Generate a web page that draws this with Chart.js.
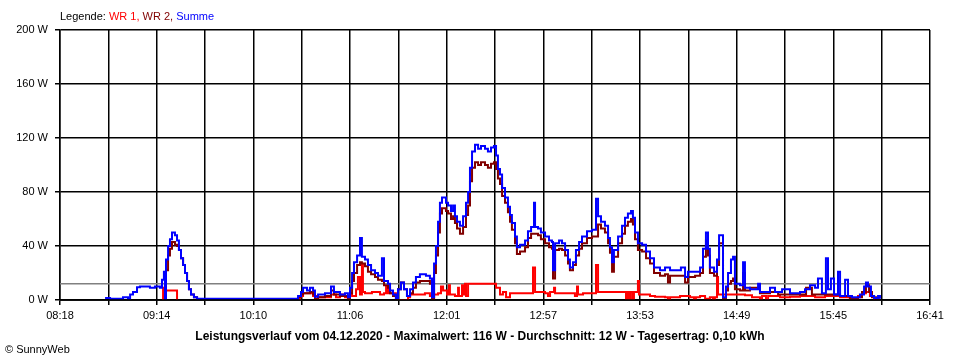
<!DOCTYPE html>
<html><head><meta charset="utf-8">
<script src="https://cdn.jsdelivr.net/npm/chart.js@4.4.1/dist/chart.umd.min.js"></script>
<style>
html,body{margin:0;padding:0;background:#fff;}
#wrap{position:relative;width:960px;height:360px;overflow:hidden;font-family:"Liberation Sans",Arial,sans-serif;color:#000;}
#c{position:absolute;left:0;top:0;}
.txt{position:absolute;white-space:nowrap;line-height:1;}
#legend{left:60px;top:11px;font-size:11px;}
#title{left:0;width:960px;text-align:center;top:330px;font-size:12px;font-weight:bold;}
#copy{left:5px;top:344px;font-size:11px;}
</style></head>
<body><div id="wrap"><canvas id="c" width="960" height="360"></canvas>
<div id="legend" class="txt">Legende: <span style="color:#ff0000">WR 1,</span> <span style="color:#800000">WR 2,</span> <span style="color:#0000ff">Summe</span></div>
<div id="title" class="txt">Leistungsverlauf vom 04.12.2020 - Maximalwert: 116 W - Durchschnitt: 12 W - Tagesertrag: 0,10 kWh</div>
<div id="copy" class="txt">© SunnyWeb</div>
</div>
<script>
// x values: minutes after 08:18
const xTickLabels = ['08:18','09:14','10:10','11:06','12:01','12:57','13:53','14:49','15:45','16:41'];
const gridStepMinutes = 28;
const gridCount = 18;
const yTickLabelsW = [0, 40, 80, 120, 160, 200];
const averageW = 12;

const sumTimes = [26.1,29.0,36.5,39.4,40.6,42.3,44.6,46.3,52.1,55.0,
57.9,59.1,60.2,60.8,61.4,62.6,63.7,64.9,66.6,67.8,
68.9,70.1,71.3,72.4,73.6,74.7,75.9,77.6,79.4,137.9,
139.6,140.8,143.1,144.8,146.6,147.7,149.5,153.5,157.0,158.7,
162.2,165.1,166.8,168.0,169.2,170.3,172.1,173.8,174.9,176.7,
178.4,180.2,182.5,184.2,186.5,187.7,190.0,191.2,192.9,194.6,
195.8,197.5,199.3,201.0,202.8,204.5,206.2,208.5,212.0,214.3,
215.5,216.7,217.8,219.0,220.1,221.3,223.6,224.8,226.5,227.7,
228.8,230.0,231.7,233.5,235.2,236.4,237.5,238.7,240.4,242.2,
243.9,246.2,247.9,249.7,251.4,252.6,253.7,254.9,256.1,257.8,
259.5,260.7,261.8,263.6,264.7,266.5,269.4,271.1,272.9,274.6,
275.2,276.9,278.6,281.0,283.3,285.0,285.6,286.8,289.1,290.8,
292.6,294.3,295.4,297.2,298.9,300.7,302.4,305.3,308.2,310.5,
311.7,313.4,315.7,317.5,318.6,319.8,320.9,323.3,325.6,327.3,
329.0,330.8,331.9,333.1,334.8,337.2,339.5,341.8,344.1,347.6,
350.5,353.4,357.4,359.7,362.1,363.8,367.9,370.8,372.5,374.2,
375.4,376.5,378.9,380.6,381.8,382.9,384.1,385.8,387.0,388.7,
389.9,391.0,393.9,395.7,396.8,399.7,404.4,405.5,411.3,414.2,
418.3,422.9,428.7,431.6,434.5,437.4,439.1,441.4,443.7,444.9,
446.6,448.4,450.7,451.9,454.8,456.5,458.8,463.4,465.8,466.9,
468.1,469.8,471.6,473.9,475.0];
const sumWatts = [1.5,1,2,1,4,6,9.5,10,9,10,
9,15,21,1,30,40,45,50,48,44,
37,31,26,20,14,8,4,2,1,3,
6,9,7,9,7,2.5,4,5,10,6,
4,5,2,9,20,28,33,46,32,30,
26,22,20,18,31,14,12,7,4,1.5,
8,13,8,3,8,13,17,19,18,16,
2,27,40,58,72,76,72,70,66,70,
62,58,55,62,72,80,98,110,115,112,
114,112,110,113,114,107,97,93,83,76,
69,63,57,47,39,41,44,51,54,72,
54,53,50,47,44,43,22,42,44,42,
37,30,24,28,37,43,47,51,52,75,
62,58,55,46,39,28,37,47,55,61,
64,66,61,50,42,41,36,31,24,22,
24,22,22,24,17,21,21,24,38,50,
38,24,21,30,48,48,2,10,20,30,
32,12,11,28,9,8,12,6,9,6,
8,5,6,8,11,9,16,5,31,8,
16,4,21,3,15,3,2,4,10,13,
10,3,1.5,3,1];

const wr2Times = [60.8,61.4,62.6,63.7,64.9,66.6,67.8,68.9,70.1,71.3,
72.4,73.6,74.7,75.9,77.6,79.4,81.1,137.9,139.6,140.8,
144.8,146.6,147.7,149.5,153.5,157.0,158.7,162.2,166.8,168.0,
169.2,170.3,172.1,173.8,174.9,176.7,178.4,180.2,182.5,184.2,
186.5,187.7,190.0,191.2,192.9,194.6,195.8,197.5,199.3,201.0,
202.8,204.5,206.2,208.5,214.3,215.5,216.7,217.8,219.0,220.1,
221.3,223.6,224.8,226.5,227.7,228.8,230.0,231.7,233.5,235.2,
236.4,237.5,238.7,240.4,242.2,243.9,246.2,247.9,249.7,251.4,
252.6,253.7,254.9,256.1,257.8,259.5,260.7,261.8,263.6,264.7,
266.5,269.4,271.1,272.9,276.9,278.6,281.0,283.3,285.0,285.6,
286.8,289.1,290.8,292.6,294.3,295.4,297.2,298.9,300.7,302.4,
305.3,308.2,311.7,313.4,315.7,317.5,318.6,319.8,320.9,323.3,
325.6,327.3,329.0,330.8,331.9,333.1,334.8,337.2,339.5,341.8,
344.1,347.6,350.5,352.2,353.4,362.1,363.8,367.9,370.8,372.5,
374.2,375.4,376.5,378.9,380.6,381.8,382.9,384.1,385.8,387.0,
388.7,389.9,391.0,393.9,395.7,396.8,399.7,405.5,411.3,416.0,
432.2,435.6,446.1,451.9,457.6,462.3,464.6,466.9,468.7,470.4,
472.7,475.0];
const wr2Watts = [2,22,33,38,43,41,40,37,31,26,
20,14,8,4,2,0.5,null,2,4,5,
6,4,1,2,3,7,4,3,1,5,
14,20,26,28,27,25,21,19,17,15,
14,11,9,5,3,1,8,13,8,3,
5,9,13,14,12,1,20,33,50,64,
68,66,64,60,62,57,53,49,54,63,
70,88,98,102,100,102,100,98,101,102,
97,90,86,77,72,65,58,52,42,34,
36,39,46,49,48,45,42,39,38,16,
37,38,37,33,27,22,26,33,38,42,
46,47,56,53,50,42,35,21,32,42,
49,55,58,60,56,45,37,36,31,27,
20,18,19,13,18,13,17,18,20,32,
44,33,20,18,26,42,42,1,7,12,
14,16,8,7,20,7,9,5,6,4,
9,4,4,3,1,2,6,11,6,2,
0.5,0.5];

const wr1Times = [59.1,59.7,60.8,61.4,67.8,68.4,137.9,139.0,140.8,146.6,
149.5,157.0,159.9,162.2,165.1,166.8,168.0,169.2,171.5,172.6,
173.8,174.9,175.5,176.7,180.7,185.4,187.7,188.9,190.0,194.6,
195.8,201.6,202.8,211.4,214.3,215.5,216.7,219.0,220.7,221.9,
224.2,225.3,225.9,228.8,230.6,231.1,232.9,233.5,234.6,235.2,
236.4,252.6,254.9,256.6,258.4,260.7,274.0,275.2,281.0,282.7,
283.9,286.2,286.8,298.3,299.5,300.1,303.0,310.5,311.7,327.9,
328.5,329.6,330.2,331.4,332.5,334.8,335.4,341.8,344.7,350.5,
352.2,353.4,359.2,365.0,367.3,368.4,370.8,373.7,376.5,378.3,
379.4,380.6,381.2,396.8,400.9,405.5,406.7,409.0,410.2,417.1,
422.9,428.7,437.4,443.2,451.9,457.6,462.3,464.6,466.9,469.2,
471.6,473.9];
const wr1Watts = [0,9,2,7,0,null,0,3,5,3,
2,4,2,4,2,1,4,3,8,17,
4,26,6,5,6,4,5,10,5,4,
0,2,4,5,3,0,4,5,10,7,
4,11,4,3,9,3,11,4,12,3,
12,9,4,6,2,5,24,6,5,3,
6,9,5,3,10,4,5,26,6,0,
6,0,6,0,6,14,4,3,2.5,2,
0,2,3,2,0,2,3,1,2,0,
2,17,4,3.5,2,0,3,0,3,2,
2.5,3,2,3,2,1,3,5,6,3,
0.5,0.5];

const toXY = (ts, vs) => ts.map((t, i) => ({x: t, y: vs[i]}));
const xMin = 0, xMax = gridStepMinutes * gridCount;

const axisOnTop = {
  id: 'axisOnTop',
  afterDatasetsDraw(chart) {
    const {ctx, chartArea: a, scales: {y}} = chart;
    const py = Math.round(y.getPixelForValue(0));
    ctx.save();
    ctx.strokeStyle = '#000';
    ctx.lineWidth = 1.5;
    ctx.beginPath();
    ctx.moveTo(a.left, py);
    ctx.lineTo(a.right, py);
    ctx.stroke();
    ctx.restore();
  }
};

const lineDs = (label, data, color) => ({
  label, data, borderColor: color, backgroundColor: color, borderWidth: 2,
  stepped: true, pointRadius: 0, spanGaps: false, fill: false
});

const tickFont = {family: '"Liberation Sans", Arial, sans-serif', size: 11};

new Chart(document.getElementById('c'), {
  type: 'line',
  data: {
    datasets: [
      lineDs('Summe', toXY(sumTimes, sumWatts), '#0000ff'),
      lineDs('WR 2', toXY(wr2Times, wr2Watts), '#800000'),
      lineDs('WR 1', toXY(wr1Times, wr1Watts), '#ff0000'),
      Object.assign(lineDs('Durchschnitt', [{x: xMin, y: averageW}, {x: xMax, y: averageW}], '#808080'), {stepped: false, borderWidth: 1.5})
    ]
  },
  options: {
    responsive: false,
    animation: false,
    events: [],
    layout: {padding: {left: 0, right: 30, top: 30, bottom: 0}},
    plugins: {legend: {display: false}, tooltip: {enabled: false}, title: {display: false}},
    scales: {
      x: {
        type: 'linear', min: xMin, max: xMax,
        afterFit(s) { s.height = 60; },
        afterBuildTicks(s) {
          const t = [];
          for (let i = 0; i <= gridCount; i++) t.push({value: i * gridStepMinutes});
          s.ticks = t;
        },
        ticks: {
          autoSkip: false, maxRotation: 0, minRotation: 0, color: '#000', font: tickFont, padding: 4,
          callback: (v, i) => (i % 2 === 0 ? xTickLabels[i / 2] : '')
        },
        grid: {color: '#000', lineWidth: 1.5, tickLength: 5},
        border: {color: '#000', width: 1.5}
      },
      y: {
        min: 0, max: 200,
        afterFit(s) { s.width = 60; },
        afterBuildTicks(s) { s.ticks = yTickLabelsW.map(v => ({value: v})); },
        ticks: {color: '#000', font: tickFont, padding: 7, callback: v => v + ' W'},
        grid: {color: '#000', lineWidth: 1.5, tickLength: 5},
        border: {color: '#000', width: 1.5}
      }
    }
  },
  plugins: [axisOnTop]
});
</script>
</body></html>
